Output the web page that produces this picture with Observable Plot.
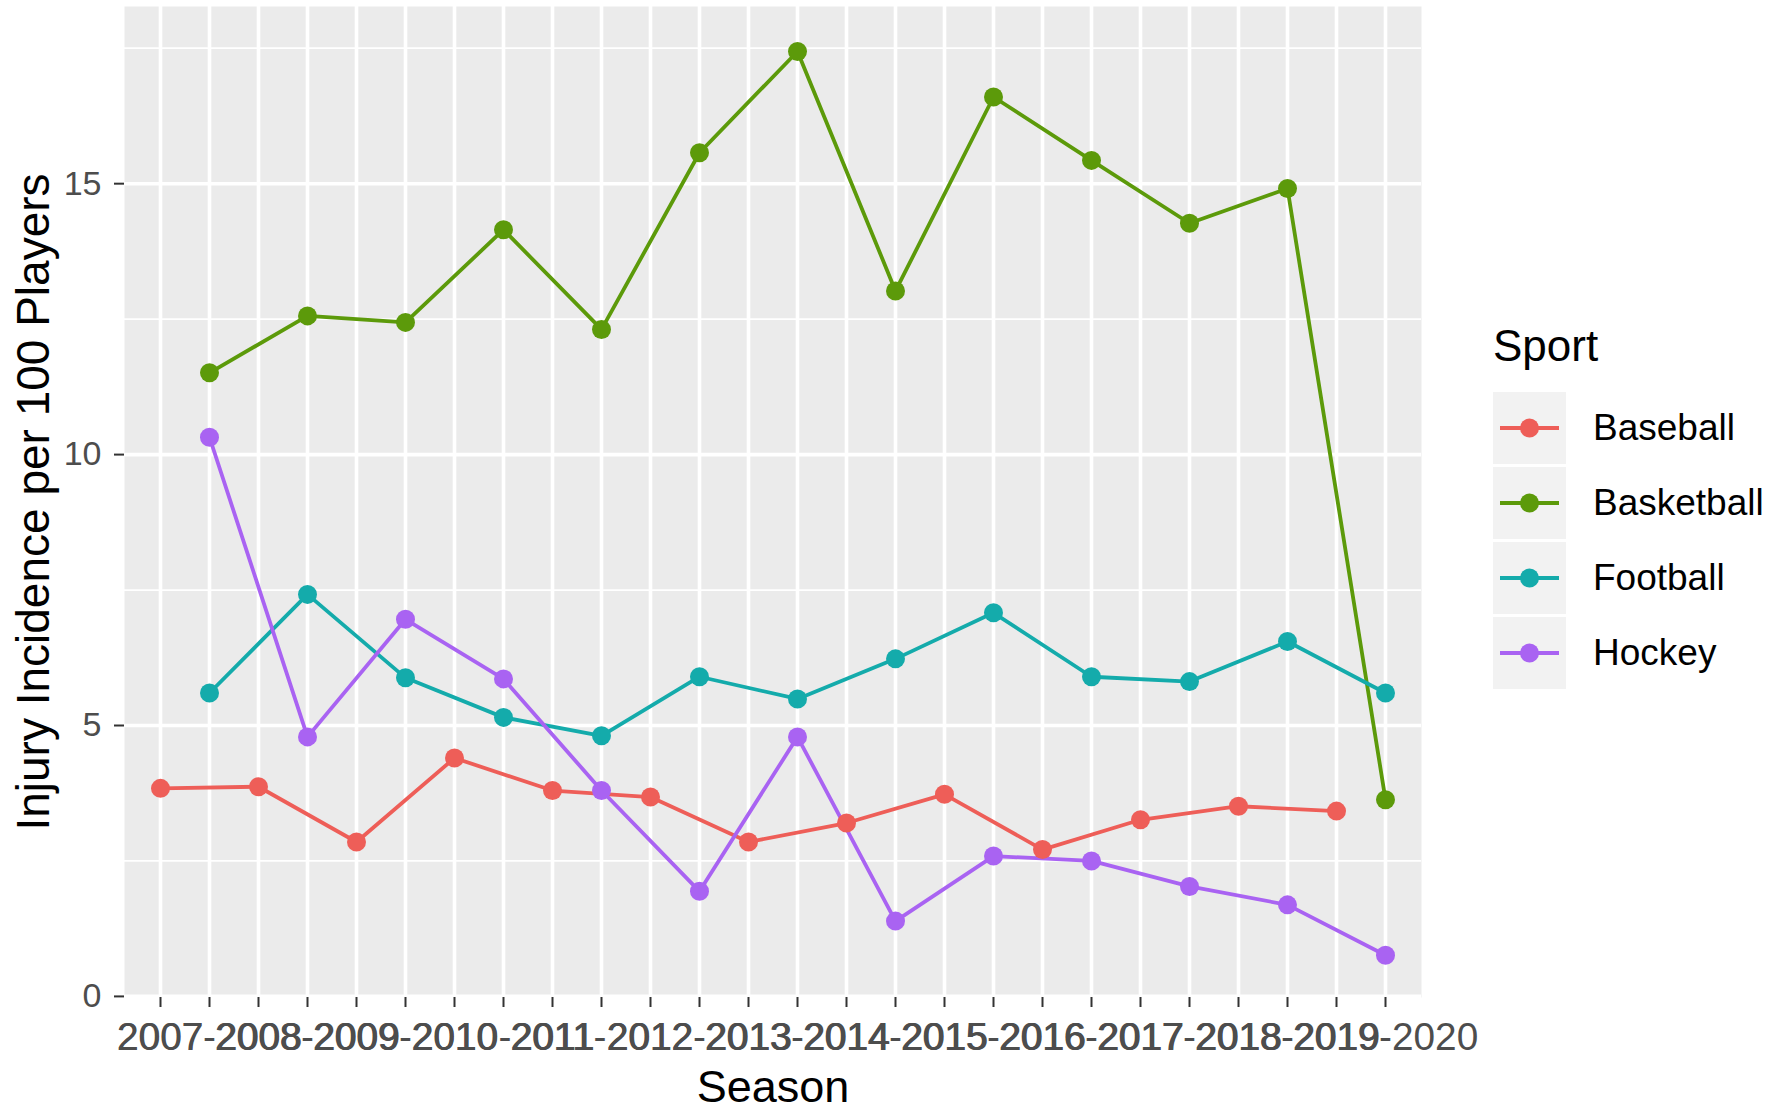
<!DOCTYPE html>
<html>
<head>
<meta charset="utf-8">
<script src="https://cdn.jsdelivr.net/npm/d3@7"></script>
<script src="https://cdn.jsdelivr.net/npm/@observablehq/plot@0.6"></script>
<style>
  body { margin: 0; background: #ffffff; font-family: "Liberation Sans", Arial, sans-serif; }
  #wrap { position: relative; width: 1770px; height: 1112px; }
  #legend { position: absolute; left: 1493px; top: 324px; }
  #legend .title { font-size: 44px; line-height: 44px; color: #000; margin-bottom: 24px; }
  #legend .item { display: flex; align-items: center; margin-bottom: 3px; }
  #legend .key { width: 73px; height: 72px; background: #F2F2F2; }
  #legend .lab { font-size: 37px; color: #000; margin-left: 27px; }
</style>
</head>
<body>
<div id="wrap"><div id="chart"></div><div id="legend"></div></div>
<script>
// Categories (x axis, alphabetical order as in ggplot's discrete scale)
const seasons = [
  "2007", "2007-2008", "2008", "2008-2009", "2009", "2009-2010", "2010", "2010-2011",
  "2011", "2011-2012", "2012", "2012-2013", "2013", "2013-2014", "2014", "2014-2015",
  "2015", "2015-2016", "2016", "2016-2017", "2017", "2017-2018", "2018", "2018-2019",
  "2019", "2019-2020"
];
const baseballSeasons = ["2007","2008","2009","2010","2011","2012","2013","2014","2015","2016","2017","2018","2019"];
const winterSeasons = ["2007-2008","2008-2009","2009-2010","2010-2011","2011-2012","2012-2013","2013-2014",
  "2014-2015","2015-2016","2016-2017","2017-2018","2018-2019","2019-2020"];

const baseball   = [3.84, 3.87, 2.85, 4.40, 3.80, 3.68, 2.85, 3.20, 3.73, 2.71, 3.26, 3.51, 3.42];
const basketball = [11.51, 12.56, 12.44, 14.15, 12.31, 15.57, 17.44, 13.02, 16.60, 15.43, 14.27, 14.91, 3.63];
const football   = [5.60, 7.42, 5.88, 5.15, 4.81, 5.90, 5.49, 6.23, 7.08, 5.90, 5.81, 6.55, 5.60];
const hockey     = [10.32, 4.79, 6.96, 5.86, 3.80, 1.94, 4.79, 1.39, 2.59, 2.50, 2.03, 1.69, 0.76];

const sports = ["Baseball", "Basketball", "Football", "Hockey"];
const sportColors = ["#EE5E58", "#5C9A0A", "#14ABAB", "#A963F2"];
const yTicks = [0, 5, 10, 15];
const yMinor = [2.5, 7.5, 12.5, 17.5];

const data = [
  ...baseballSeasons.map((s, i) => ({sport: "Baseball", season: s, value: baseball[i]})),
  ...winterSeasons.map((s, i) => ({sport: "Basketball", season: s, value: basketball[i]})),
  ...winterSeasons.map((s, i) => ({sport: "Football", season: s, value: football[i]})),
  ...winterSeasons.map((s, i) => ({sport: "Hockey", season: s, value: hockey[i]}))
];

const chart = Plot.plot({
  width: 1770,
  height: 1112,
  marginLeft: 124,
  marginRight: 349,
  marginTop: 6,
  marginBottom: 115,
  style: { fontFamily: "Liberation Sans, Arial, sans-serif", background: "#ffffff" },
  x: { type: "point", domain: seasons, padding: 0.6 },
  y: { domain: [-0.02, 18.27] },
  color: { domain: sports, range: sportColors },
  marks: [
    Plot.frame({ fill: "#EBEBEB", stroke: null }),
    Plot.ruleY(yMinor, { stroke: "#ffffff", strokeWidth: 1.8 }),
    Plot.ruleY(yTicks, { stroke: "#ffffff", strokeWidth: 3.6 }),
    Plot.ruleX(seasons, { stroke: "#ffffff", strokeWidth: 3.6 }),
    Plot.line(data, { x: "season", y: "value", stroke: "sport", z: "sport", strokeWidth: 3.8 }),
    Plot.dot(data, { x: "season", y: "value", fill: "sport", r: 9.5, stroke: null }),
    Plot.axisX({ ticks: seasons, tickSize: 10, tickPadding: 15, fontSize: 38.8, fill: "#4D4D4D", stroke: "#333333", strokeWidth: 2, label: null }),
    Plot.axisY({ ticks: yTicks, tickSize: 10, tickPadding: 13, fontSize: 34, fill: "#4D4D4D", stroke: "#333333", strokeWidth: 2, label: null }),
    Plot.text(["Season"], { frameAnchor: "bottom", dy: 90, fontSize: 45, fill: "#000000", lineAnchor: "middle" }),
    Plot.text(["Injury Incidence per 100 Players"], { frameAnchor: "left", textAnchor: "middle", dx: -90, rotate: -90, fontSize: 46, fill: "#000000", lineAnchor: "middle" })
  ]
});
document.getElementById("chart").appendChild(chart);

// ggplot-style legend
const legend = d3.select("#legend");
legend.append("div").attr("class", "title").text("Sport");
sports.forEach((s, i) => {
  const item = legend.append("div").attr("class", "item");
  const key = item.append("div").attr("class", "key");
  const svg = key.append("svg").attr("width", 73).attr("height", 72);
  svg.append("line").attr("x1", 7).attr("x2", 66).attr("y1", 36).attr("y2", 36)
    .attr("stroke", sportColors[i]).attr("stroke-width", 3.8);
  svg.append("circle").attr("cx", 36.5).attr("cy", 36).attr("r", 9.5).attr("fill", sportColors[i]);
  item.append("span").attr("class", "lab").text(s);
});
</script>
</body>
</html>
